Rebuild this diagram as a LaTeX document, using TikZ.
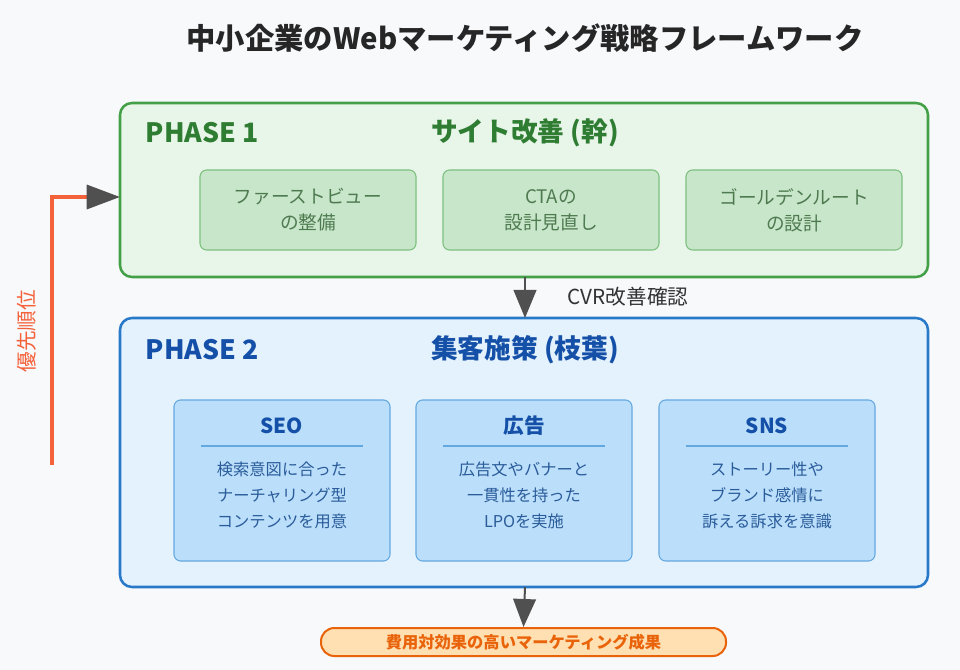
\documentclass[tikz,border=0pt]{standalone}
\usepackage{fontspec}
\setmainfont{Noto Sans CJK JP}
\usetikzlibrary{arrows.meta}
\definecolor{bg}{HTML}{F8F9FB}
\definecolor{gfill}{HTML}{E8F5E9}
\definecolor{gdraw}{HTML}{43A047}
\definecolor{gdark}{HTML}{2E7D32}
\definecolor{gsub}{HTML}{C8E6C9}
\definecolor{gsubd}{HTML}{7CC07F}
\definecolor{gtext}{HTML}{4E7A50}
\definecolor{bfill}{HTML}{E3F2FD}
\definecolor{bdraw}{HTML}{2979C9}
\definecolor{bdark}{HTML}{1550A8}
\definecolor{bsub}{HTML}{BBDEFB}
\definecolor{bsubd}{HTML}{64A8E0}
\definecolor{btext}{HTML}{2A5C9A}
\definecolor{ofill}{HTML}{FFE0B2}
\definecolor{odraw}{HTML}{E8630A}
\definecolor{red1}{HTML}{F4623A}
\definecolor{arr}{HTML}{505050}
\begin{document}
\begin{tikzpicture}[x=0.75pt,y=-0.75pt,
  phase/.style={draw, line width=1.9pt, rounded corners=9pt},
  g1/.style={draw=gsubd, fill=gsub, line width=0.8pt, rounded corners=5pt},
  gt/.style={text=gtext, font=\fontsize{14}{19.5}\selectfont, align=center},
  b1/.style={draw=bsubd, fill=bsub, line width=0.8pt, rounded corners=5pt},
  hd/.style={font=\bfseries\fontsize{20}{22}\selectfont},
  down/.style={arr, line width=1.5pt, -{Triangle[length=21pt,width=17pt]}}]
\useasboundingbox (0,0) rectangle (960,670);
\fill[bg] (0,0) rectangle (960,670);
\node[font=\bfseries\fontsize{22}{26}\selectfont, text=black!85] (title) at (525,38) {中小企業のWebマーケティング戦略フレームワーク};
% phase 1
\draw[phase, draw=gdraw, fill=gfill] (120,103) rectangle (928,277);
\coordinate (p1t) at (525,103); \coordinate (p1b) at (525,277); \coordinate (p1l) at (120,197);
\node[hd, text=gdark, anchor=west] (ph1) at (141,133) {PHASE 1};
\node[hd, text=gdark] (t1) at (525,133) {サイト改善 (幹)};
\draw[g1] (200,170) rectangle (416,250); \node[gt] (s11) at (308,210) {ファーストビュー\\の整備};
\draw[g1] (443,170) rectangle (659,250); \node[gt] (s12) at (551,210) {CTAの\\設計見直し};
\draw[g1] (686,170) rectangle (902,250); \node[gt] (s13) at (794,210) {ゴールデンルート\\の設計};
% phase 2
\draw[phase, draw=bdraw, fill=bfill] (120,318) rectangle (928,587);
\coordinate (p2t) at (525,318); \coordinate (p2b) at (525,587);
\node[hd, text=bdark, anchor=west] (ph2) at (141,350) {PHASE 2};
\node[hd, text=bdark] (t2) at (525,350) {集客施策 (枝葉)};
\foreach \x/\h/\a/\b/\c/\n in {174/SEO/検索意図に合った/ナーチャリング型/コンテンツを用意/a, 416/広告/広告文やバナーと/一貫性を持った/LPOを実施/b, 659/SNS/ストーリー性や/ブランド感情に/訴える訴求を意識/c}{
  \draw[b1] (\x,400) rectangle ++(216,161);
  \node[font=\bfseries\fontsize{15.5}{18}\selectfont, text=bdark] (h\n) at (\x+108,426) {\h};
  \draw[bsubd, line width=0.8pt] (\x+27,446) -- (\x+189,446);
  \node[font=\fontsize{12.2}{19.5}\selectfont, text=btext, align=center] (d\n) at (\x+108,495) {\a\\\b\\\c};
}
% outcome
\node[draw=odraw, fill=ofill, line width=1.5pt, rounded corners=10pt, minimum width=405*0.75pt, minimum height=28*0.75pt, inner sep=0pt, font=\bfseries\fontsize{12.2}{14}\selectfont, text=odraw] (out) at (523.5,642) {費用対効果の高いマーケティング成果};
% arrows
\draw[down] (p1b) -- (p2t);
\node[anchor=west, font=\fontsize{15.5}{18}\selectfont, text=black!80] (cvr) at (563,297) {CVR改善確認};
\draw[down] (p2b) -- (out.north);
\coordinate (lb) at (52,465);
\draw[red1, line width=2.6pt, -{Triangle[length=25pt,width=18pt,color=arr]}] (lb) |- (p1l);
\node[rotate=90, text=red1, font=\fontsize{15.5}{18}\selectfont] (prio) at (27,331) {優先順位};
\end{tikzpicture}
\end{document}
